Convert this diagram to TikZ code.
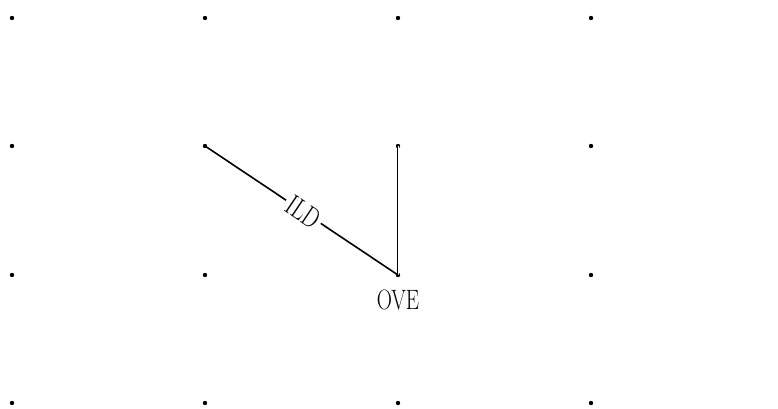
\documentclass[tikz,border=0pt]{standalone}
\begin{document}
\begin{tikzpicture}[x=1pt,y=-1pt,
  griddot/.style={circle,fill=black,inner sep=0pt,minimum size=4.4pt},
  lbl/.style={font=\fontsize{20}{24}\selectfont,inner sep=1pt},
  solidline/.style={line width=1.6pt},
  outerline/.style={line width=2.6pt,line cap=round},
  innerline/.style={white,line width=0.9pt}]
\useasboundingbox (0,0) rectangle (778,409);
\foreach \i/\x in {1/12,2/205,3/398,4/591}{
  \foreach \j/\y in {1/18,2/146,3/275,4/403}{
    \node[griddot] (d\i\j) at (\x,\y) {};
  }
}
\draw[outerline] (d33.center) -- (d32.center);
\draw[innerline] (d33.center) -- (d32.center);
\draw[solidline] (d22.center) -- node[sloped,lbl,fill=white,inner sep=3pt,pos=0.51] {\scalebox{1.1}[1.45]{ILD}} (d33.center);
\node[lbl] (ove) at (398,300) {\scalebox{1.05}[1.4]{OVE}};
\end{tikzpicture}
\end{document}
